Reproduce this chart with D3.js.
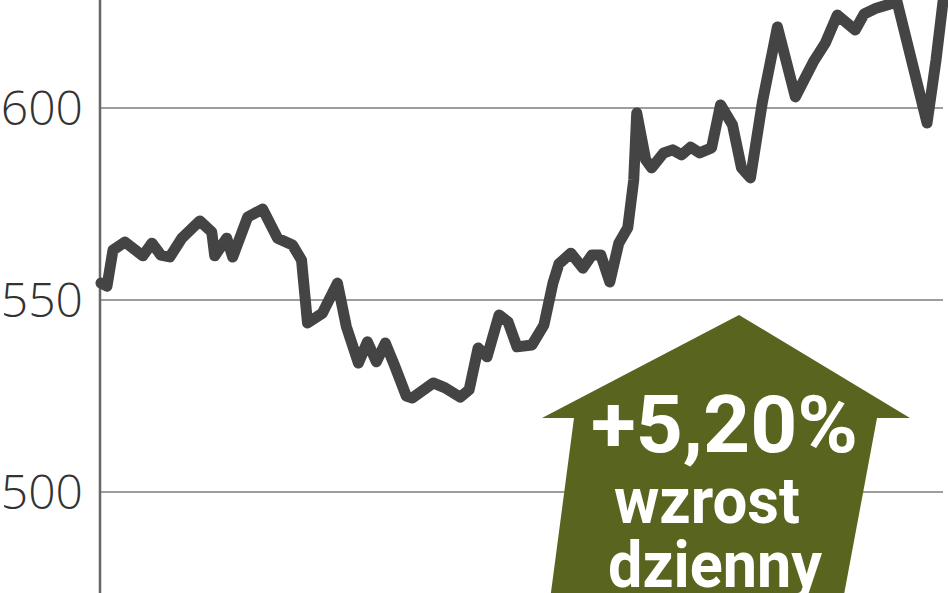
<!DOCTYPE html>
<html>
<head>
<meta charset="utf-8">
<script src="https://cdn.jsdelivr.net/npm/d3@7"></script>
<style>
  body { margin: 0; background: #fff; }
  svg { display: block; }
</style>
</head>
<body>
<svg width="948" height="593"></svg>
<script>
// sesje (pozycja na osi czasu) i kurs
var sessions = [0, 2, 4, 8, 14, 17, 20, 23, 27, 33, 37, 38, 42, 44, 49, 54, 59, 64, 67, 69,
  74, 79, 82, 86, 89, 92, 95, 98, 102, 104, 111, 115, 120, 123, 126, 129, 133, 136, 139, 144,
  148, 151, 153, 157, 161, 164, 167, 170, 173, 176, 178, 179, 182, 184, 188, 191, 194, 197, 200, 204,
  207, 211, 214, 217, 221, 226, 232, 238, 242, 246, 252, 255, 259, 266, 276, 279, 282]
var prices = [554.4, 553.6, 563.0, 565.1, 561.5, 564.8, 561.7, 561.2, 566.1, 570.6, 567.7, 561.5, 566.1, 561.2, 571.6, 573.7, 566.1, 564.3, 560.4, 544.0,
  546.6, 554.4, 543.0, 533.6, 539.1, 533.9, 538.8, 533.1, 525.0, 524.5, 528.4, 527.1, 524.7, 526.6, 537.5, 535.2, 546.1, 544.3, 537.8, 538.3,
  543.5, 554.4, 559.4, 562.2, 558.3, 561.7, 561.7, 554.7, 564.8, 568.8, 581.3, 598.7, 586.5, 584.4, 588.3, 589.1, 587.8, 589.8, 588.3, 589.6,
  600.8, 595.6, 584.4, 581.8, 601.6, 621.1, 602.9, 612.0, 616.9, 624.2, 620.3, 624.5, 626.0, 627.6, 596.1, 612.5, 632.0]
var yTicks = [500, 550, 600]
var labelLines = ['+5,20%', 'wzrost', 'dzienny']

var svg = d3.select('svg')

var x = d3.scaleLinear().domain([0, 282]).range([101, 945])
var y = d3.scaleLinear().domain([500, 600]).range([492, 108])

// linie siatki
svg.append('g')
    .selectAll('line')
    .data(yTicks)
    .join('line')
    .attr('x1', 100)
    .attr('x2', 943)
    .attr('y1', d => y(d))
    .attr('y2', d => y(d))
    .attr('stroke', '#9d9d9d')
    .attr('stroke-width', 2)

// etykiety osi
svg.append('g')
    .selectAll('text')
    .data(yTicks)
    .join('text')
    .text(d => d)
    .attr('x', 83)
    .attr('y', d => y(d) + 17)
    .attr('text-anchor', 'end')
    .attr('font-family', 'Open Sans, sans-serif')
    .attr('font-weight', 300)
    .attr('font-size', 48)
    .attr('fill', '#333')

// os pionowa
svg.append('line')
    .attr('x1', 100).attr('x2', 100)
    .attr('y1', 0).attr('y2', 593)
    .attr('stroke', '#666')
    .attr('stroke-width', 2.5)

var line = d3.line()
    .x((d, i) => x(sessions[i]))
    .y(d => y(d))

svg.append('path')
    .datum(prices)
    .attr('d', line)
    .attr('fill', 'none')
    .attr('stroke', '#444444')
    .attr('stroke-width', 11)
    .attr('stroke-linejoin', 'round')
    .attr('stroke-linecap', 'round')

// strzalka
var arrow = svg.append('g')
arrow.append('polygon')
    .attr('points', '739,315 910,418 877,418 843,600 550,600 574,418 542,418')
    .attr('fill', '#59651f')

var textPos = [
    {x: 591, y: 452, w: 267, size: 80},
    {x: 614, y: 523, w: 186, size: 64},
    {x: 608, y: 587, w: 214, size: 64}
]
arrow.selectAll('text')
    .data(labelLines)
    .join('text')
    .text(d => d)
    .attr('x', (d, i) => textPos[i].x)
    .attr('y', (d, i) => textPos[i].y)
    .attr('textLength', (d, i) => textPos[i].w)
    .attr('lengthAdjust', 'spacingAndGlyphs')
    .attr('font-family', 'Roboto, sans-serif')
    .attr('font-weight', 'bold')
    .attr('font-size', (d, i) => textPos[i].size)
    .attr('fill', '#fff')
</script>
</body>
</html>
